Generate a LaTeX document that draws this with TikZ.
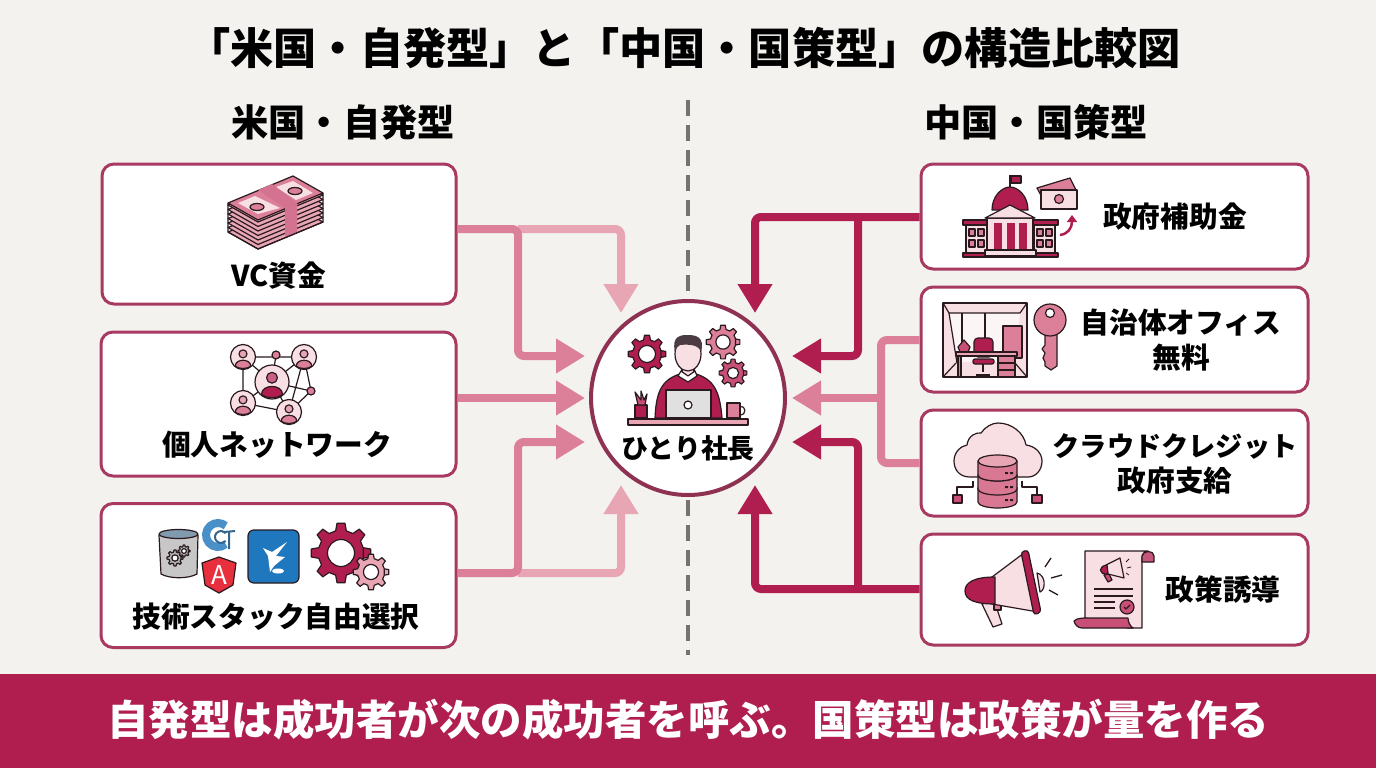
\documentclass[tikz,border=0pt]{standalone}
\usepackage{fontspec}
\setmainfont{Noto Sans CJK JP}
\usetikzlibrary{arrows.meta}
\definecolor{paper}{HTML}{F3F2EE}
\definecolor{crim}{HTML}{B01E50}
\definecolor{rim}{HTML}{A83A62}
\definecolor{rose}{HTML}{C84F75}
\definecolor{pinkm}{HTML}{DC7F98}
\definecolor{pinkl}{HTML}{E8A6B5}
\definecolor{pale}{HTML}{F8DFE3}
\definecolor{inkc}{HTML}{2A1A20}
\definecolor{cblue}{HTML}{1F78BE}
\definecolor{sky}{HTML}{4A90C8}
\tikzset{
  ink/.style={draw=inkc, line width=1.2pt, line join=round},
  card/.style={draw=rim, line width=3pt, fill=white, rounded corners=12pt},
  lab/.style={font=\fontsize{28.7}{35}\selectfont\bfseries, align=center, text=black, inner sep=0pt},
  head/.style={font=\fontsize{37.2}{40}\selectfont\bfseries, text=black, inner sep=0pt},
  conn/.style={line width=8pt, rounded corners=6pt},
  tip/.style={-{Triangle[length=29pt,width=33pt]}}
}
% gear: x, y, radius, teeth, fill, hole
\newcommand{\gearicon}[6]{
  \begin{scope}[shift={(#1,#2)},scale=#3]
    \pgfmathsetmacro{\gs}{360/#4}
    \draw[ink,fill=#5] ({-.3*\gs}:.76) \foreach \k [evaluate=\k as \a using \k*\gs] in {0,...,#4} { -- ({\a-.3*\gs}:.76) -- ({\a-.17*\gs}:1) -- ({\a+.17*\gs}:1) -- ({\a+.3*\gs}:.76)} -- cycle;
    \draw[ink,fill=white] (0,0) circle (#6);
  \end{scope}}
% person in a ring: x, y, radius, fill
\newcommand{\ringman}[4]{
  \begin{scope}[shift={(#1,#2)},scale=#3]
    \draw[ink,fill=pale] (0,0) circle (1);
    \draw[ink,fill=#4] (-.62,.74) .. controls (-.62,.1) and (.62,.1) .. (.62,.74) .. controls (.3,.98) and (-.3,.98) .. (-.62,.74) -- cycle;
    \draw[ink,fill=#4!70!white] (0,-.25) circle (.32);
  \end{scope}}
\begin{document}
\begin{tikzpicture}[x=1pt, y=-1pt]
\useasboundingbox (0,0) rectangle (1376,768);
\fill[paper] (0,0) rectangle (1376,768);
\fill[crim] (0,674) rectangle (1376,768);

\node[font=\fontsize{43.2}{48}\selectfont\bfseries, inner sep=0pt] (title) at (684,48) {「米国・自発型」と「中国・国策型」の構造比較図};
\node[head] (leftHead) at (343,122) {米国・自発型};
\node[head] (rightHead) at (1036,122) {中国・国策型};
\node[font=\fontsize{41.5}{46}\selectfont\bfseries, text=white, inner sep=0pt] (banner) at (688,720) {自発型は成功者が次の成功者を呼ぶ。国策型は政策が量を作る};

% divider
\coordinate (dtop) at (688,100);
\coordinate (dbot) at (688,655);
\draw[draw=black!55, line width=3.5pt, dash pattern=on 16pt off 9pt] (dtop) -- (dbot);

% cards
\node[card, minimum width=354pt, minimum height=140pt, inner sep=0pt] (vc) at (279,234) {};
\node[card, minimum width=355pt, minimum height=144pt, inner sep=0pt] (net) at (278.5,404) {};
\node[card, minimum width=355pt, minimum height=144pt, inner sep=0pt] (stack) at (278.5,575.5) {};
\node[card, minimum width=387pt, minimum height=105pt, inner sep=0pt] (subsidy) at (1114.5,216.5) {};
\node[card, minimum width=387pt, minimum height=105pt, inner sep=0pt] (office) at (1114.5,339.5) {};
\node[card, minimum width=387pt, minimum height=106pt, inner sep=0pt] (cloud) at (1114.5,463) {};
\node[card, minimum width=387pt, minimum height=111pt, inner sep=0pt] (policy) at (1114.5,589.5) {};
\node[circle, draw=rim!85!black, line width=4pt, fill=white, minimum size=194pt, inner sep=0pt] (hub) at (688,398) {};

% tips around the hub
\coordinate (tipA) at ([shift={(-67,-85)}]hub.center);
\coordinate (tipB) at ([shift={(-103,-42)}]hub.center);
\coordinate (tipC) at ([shift={(-103,0)}]hub.center);
\coordinate (tipD) at ([shift={(-103,44)}]hub.center);
\coordinate (tipE) at ([shift={(-67,87)}]hub.center);
\coordinate (tipF) at ([shift={(67,-85)}]hub.center);
\coordinate (tipG) at ([shift={(104,-42)}]hub.center);
\coordinate (tipH) at ([shift={(104,0)}]hub.center);
\coordinate (tipI) at ([shift={(104,44)}]hub.center);
\coordinate (tipJ) at ([shift={(67,87)}]hub.center);
\coordinate (forkL) at (518,229);
\coordinate (forkM) at (518,573);
\coordinate (forkR) at (858,217);
\coordinate (forkS) at (858,589);
\coordinate (forkT) at (881,398);

% left arrows
\draw[conn, tip, draw=pinkl, color=pinkl] (forkL) -- (tipA |- forkL) -- (tipA);
\draw[conn, tip, draw=pinkl, color=pinkl] (forkM) -- (tipE |- forkM) -- (tipE);
\draw[conn, tip, draw=pinkm, color=pinkm] (forkL -| vc.east) -- (forkL) -- (forkL |- tipB) -- (tipB);
\draw[conn, tip, draw=pinkm, color=pinkm] (net.east |- tipC) -- (tipC);
\draw[conn, tip, draw=pinkm, color=pinkm] (forkM -| stack.east) -- (forkM) -- (forkM |- tipD) -- (tipD);
% right arrows
\draw[conn, tip, draw=crim, color=crim] (forkR -| subsidy.west) -- (tipF |- forkR) -- (tipF);
\draw[conn, tip, draw=crim, color=crim] (forkR) -- (forkR |- tipG) -- (tipG);
\draw[conn, tip, draw=crim, color=crim] (forkS -| policy.west) -- (tipJ |- forkS) -- (tipJ);
\draw[conn, tip, draw=crim, color=crim] (forkS) -- (forkS |- tipI) -- (tipI);
\draw[conn, draw=pinkm] (office.west |- 0,340) -- (881,340) -- (forkT);
\draw[conn, draw=pinkm] (cloud.west |- 0,463) -- (881,463) -- (forkT);
\draw[conn, tip, draw=pinkm, color=pinkm] (forkT) -- (tipH);

% labels
\node[lab] (vcText) at (279,276) {VC資金};
\node[lab] (netText) at (277,445) {個人ネットワーク};
\node[lab] (stackText) at (276,617) {技術スタック自由選択};
\node[lab] (subsidyText) at (1175,217) {政府補助金};
\node[lab] (officeText) at (1181,340) {自治体オフィス\\無料};
\node[lab] (cloudText) at (1175,464) {\fontsize{27.2}{35}\selectfont クラウドクレジット\\政府支給};
\node[lab] (policyText) at (1223,590) {政策誘導};
\node[lab, font=\fontsize{26.8}{30}\selectfont\bfseries] (hubText) at (688,448) {ひとり社長};

% money stack
\foreach \d in {29,24.5,20,15.5,11,6.5,2}
  \draw[ink,fill=pinkl] (228,{203+\d}) -- (293,{176+\d}) -- (323,{193+\d}) -- (258,{220+\d}) -- cycle;
\draw[ink,fill=pinkm] (228,203) -- (293,176) -- (323,193) -- (258,220) -- cycle;
\fill[pale] (238,203) -- (255,196) -- (280,208) -- (258,214) -- cycle;
\fill[pale] (276,187) -- (293,181) -- (313,193) -- (296,200) -- cycle;
\draw[ink,fill=pinkm] (257,207) ellipse [x radius=7, y radius=3.5];
\draw[ink,fill=pinkm] (295,191) ellipse [x radius=7, y radius=3.5];
\fill[rose!80!white] (258,190) -- (272,184) -- (297,203) -- (297,232) -- (285,237) -- (285,208) -- cycle;
\draw[ink] (228,203) -- (228,232) -- (258,249) -- (323,222) -- (323,193);

% network
\foreach \a/\b in {243/357,304/357,243/403,289/412,311/391,276/355}
  \draw[ink] (272,382) -- (\a,\b);
\draw[ink] (243,357) -- (304,357) -- (311,391) -- (289,412) -- (243,403) -- (243,357);
\draw[ink] (304,357) -- (289,412);
\ringman{243}{357}{12.5}{pinkm}
\ringman{304}{357}{12.5}{pinkm}
\ringman{243}{403}{12.5}{pinkm}
\ringman{289}{412}{12.5}{pinkm}
\ringman{272}{382}{17}{crim}
\draw[ink,fill=pinkm] (276,355) circle (4);
\draw[ink,fill=pinkm] (311,391) circle (4);

% tool logos
\draw[ink,fill=black!22] (159,535) -- (161,574) .. controls (170,579) and (188,579) .. (197,574) -- (198,535) -- cycle;
\draw[ink,fill=sky!60!black!60] (178.5,534) ellipse [x radius=19.5, y radius=4.5];
\gearicon{175}{558}{8}{8}{black!30}{.4}
\gearicon{184}{551}{6}{8}{black!30}{.4}
\draw[sky, line width=8pt] ([shift={(50:12)}]218,535) arc[start angle=50,end angle=310,radius=12];
\draw[sky!70!black, line width=2pt] ([shift={(40:6)}]221,537) arc[start angle=40,end angle=320,radius=6];
\draw[sky!70!black, line width=2pt] (224,532) -- (235,531) (229,532) -- (229,549);
\draw[ink,fill=red!65!crim!85!white] (219,557) -- (236,563) -- (233,585) -- (219,593) -- (205,585) -- (202,563) -- cycle;
\node[font=\fontsize{26}{28}\selectfont, text=white, inner sep=0pt] (ngLogo) at (219,575) {A};
\draw[ink,fill=cblue,rounded corners=6pt] (248,530) rectangle (299,583);
\fill[white] (263,548) -- (272,552) -- (287,542) -- (276,556) -- (285,557) -- (274,566) -- (270,572) -- (268,556) -- cycle;
\fill[white] (278,571) ellipse [x radius=6, y radius=2.5];
\gearicon{341}{553}{30}{8}{crim}{.45}
\gearicon{371}{572}{18}{8}{pinkl}{.42}

% person at the desk
\gearicon{647}{354}{19}{8}{crim}{.45}
\gearicon{723}{342}{17}{8}{pinkm}{.42}
\gearicon{733}{373}{14}{8}{rose}{.4}
\draw[ink,fill=crim] (655,418) .. controls (656,395) and (660,380) .. (680,374) -- (696,374) .. controls (716,380) and (720,395) .. (722,418) -- cycle;
\draw[ink,fill=pale] (682,365) -- (682,376) -- (694,376) -- (694,365) -- cycle;
\draw[ink,fill=white] (678,376) -- (688,382) -- (697,376) -- (695,371) -- (688,376) -- (681,371) -- cycle;
\draw[ink,fill=pale] (688,354) ellipse [x radius=13, y radius=17];
\fill[inkc!85!white] (675,352) .. controls (671,335) and (682,335) .. (688,335) .. controls (696,335) and (705,337) .. (701,352) .. controls (699,345) and (690,344) .. (680,345) .. controls (677,346) and (676,349) .. (675,352) -- cycle;
\draw[ink,fill=black!12] (666,390) rectangle (711,418);
\draw[ink,fill=white] (688,405) circle (4);
\draw[ink,fill=pinkl] (628,419) rectangle (748,425);
\draw[ink,fill=crim] (635,405) rectangle (647,418);
\draw[ink,fill=rose] (638,405) -- (635,392) -- (641,400) -- (641,391) -- (644,400) -- (647,394) -- (645,405) -- cycle;
\draw[ink] (740,407) .. controls (746,405) and (747,415) .. (740,415);
\draw[ink,fill=pinkm] (727,403) rectangle (740,418);

% government building
\draw[ink,fill=crim] (992,210) .. controls (992,196) and (1002,187) .. (1010,187) .. controls (1018,187) and (1028,196) .. (1028,210) -- cycle;
\draw[ink] (1010,187) -- (1010,175);
\draw[ink,fill=crim] (1011,176) rectangle (1021,183);
\draw[ink,fill=crim] (963,220) rectangle (1058,225);
\draw[ink,fill=pale] (966,225) rectangle (987,253);
\draw[ink,fill=pale] (1034,225) rectangle (1055,253);
\foreach \x in {969,978,1037,1046} \foreach \y in {229,240}
  \draw[ink,fill=pinkm] (\x,\y) rectangle +(6,7);
\draw[ink,fill=pale] (987,218) rectangle (1033,253);
\foreach \x in {994,1006.5,1019} \fill[crim] (\x,223) rectangle +(8,27);
\draw[ink,fill=pale] (985,218) -- (1010,205) -- (1035,218) -- cycle;
\draw[ink,fill=crim] (963,253) rectangle (1058,257);
\draw[ink,fill=pale] (985,250) rectangle (1036,256);
\draw[ink,fill=pinkm] (1037,188) -- (1070,178) -- (1077,192) -- (1045,203) -- cycle;
\draw[ink,fill=pale] (1041,190) rectangle (1077,209);
\draw[ink,fill=pinkm] (1059,199) circle (4.5);
\draw[crim, line width=2.5pt, -{Triangle[length=7pt,width=10pt]}] (1060,235) .. controls (1068,234) and (1072,228) .. (1072,215);

% office room and key
\draw[ink,fill=pale] (943,303) rectangle (1027,377);
\fill[white,opacity=.7] (949,313) -- (1020,313) -- (1015,362) -- (957,362) -- cycle;
\draw[ink] (943,303) -- (949,313) -- (1020,313) -- (1027,303);
\draw[ink] (949,313) -- (957,363) (943,377) -- (956,363) (1027,377) -- (1015,363);
\draw[ink] (962,313) -- (962,352) (985,313) -- (985,338);
\draw[ink,fill=pinkm] (1003,326) rectangle (1022,358);
\draw[ink,fill=rose] (958,347) -- (964,340) -- (970,347) -- (968,352) -- (960,352) -- cycle;
\draw[ink,fill=crim,rounded corners=4pt] (974,338) rectangle (993,357);
\draw[ink,fill=crim,rounded corners=2pt] (973,359) rectangle (994,364);
\draw[ink] (983,364) -- (983,372) (976,375) -- (990,375);
\draw[ink,fill=pinkl] (956,352) rectangle (1017,356);
\draw[ink,fill=pinkm] (958,356) rectangle (961,377);
\draw[ink,fill=pinkm] (998,356) rectangle (1015,377) (998,363) -- (1015,363) (998,370) -- (1015,370);
\draw[ink,fill=pinkm] (1045,332) -- (1045,345) -- (1042,349) -- (1045,353) -- (1043,358) -- (1045,362) -- (1045,366) -- (1051,370) -- (1057,366) -- (1057,332) -- cycle;
\draw[ink,fill=pinkm] (1050,320) circle (16);
\draw[ink,fill=white] (1050,313) circle (4.5);

% cloud and database
\draw[ink,fill=pale] (970,477) .. controls (958,477) and (954,468) .. (954,461) .. controls (954,452) and (961,446) .. (967,445) .. controls (968,436) and (976,432) .. (981,433) .. controls (985,427) and (992,423) .. (998,423) .. controls (1012,423) and (1024,433) .. (1026,445) .. controls (1035,446) and (1042,453) .. (1042,461) .. controls (1042,470) and (1036,477) .. (1028,477) -- cycle;
\draw[ink] (973,481) -- (973,487) -- (957,487) -- (957,495) (1022,481) -- (1022,487) -- (1037,487) -- (1037,495);
\draw[ink,fill=rose] (953,495) rectangle (962,503);
\draw[ink,fill=rose] (1032,495) rectangle (1042,503);
\foreach \y in {488,475,461} {
  \draw[ink,fill=pinkm!85!rose] (978,\y) -- (978,{\y+14}) arc[start angle=180,end angle=0,x radius=19.5,y radius=6] -- (1017,\y) -- cycle;
  \draw[ink,fill=pinkl] (997.5,\y) ellipse [x radius=19.5, y radius=6];
  \fill[inkc] (1005,{\y+11}) rectangle +(3,2) (1010,{\y+11}) rectangle +(3,2);
}

% megaphone and scroll
\draw[ink,fill=pale] (982,604) -- (993,627) -- (1002,624) -- (994,600) -- cycle;
\draw[ink,fill=pinkm] (994,600) rectangle (1001,610);
\draw[ink,fill=pale] (1037,573) .. controls (1046,575) and (1046,590) .. (1040,592) -- cycle;
\draw[ink,fill=pale] (992,577) -- (1024,553) -- (1038,612) -- (992,604) -- cycle;
\draw[ink,fill=crim] (995,577) .. controls (975,577) and (965,582) .. (965,591) .. controls (965,600) and (975,604) .. (995,604) -- cycle;
\draw[ink,fill=crim,rounded corners=3pt] (1021,552) -- (1028,550) -- (1041,612) -- (1034,615) -- cycle;
\draw[ink,line width=1.3pt] (1045,567) -- (1051,558) (1051,578) -- (1062,575) (1049,590) -- (1058,595);
\draw[ink,fill=pale] (1085,618) -- (1085,551) -- (1148,551) .. controls (1142,552) and (1142,556) .. (1142,560) -- (1142,628) -- (1128,628) -- cycle;
\draw[ink,fill=crim!75!white] (1142,562) -- (1142,556) .. controls (1143,550) and (1154,550) .. (1154,556) -- (1154,562) -- cycle;
\draw[ink,fill=rose] (1074,621) .. controls (1076,618) and (1085,618) .. (1085,618) -- (1128,618) .. controls (1128,622) and (1130,626) .. (1133,628) -- (1082,628) .. controls (1078,628) and (1075,625) .. (1074,621) -- cycle;
\draw[ink,fill=rose] (1104,575) -- (1108,582) -- (1112,580) -- (1109,574) -- cycle;
\draw[ink,fill=pale] (1106,565) -- (1120,558) -- (1124,578) -- (1108,574) -- cycle;
\draw[ink,fill=crim] (1107,565) .. controls (1098,566) and (1098,575) .. (1108,574) -- cycle;
\draw[ink,line width=.8pt] (1126,562) -- (1129,559) (1127,568) -- (1131,567) (1126,573) -- (1129,575);
\draw[ink] (1094,589) -- (1133,589) (1094,596) -- (1133,596) (1094,602) -- (1115,602) (1094,608) -- (1115,608);
\draw[ink,fill=rose] (1127,607) circle (7);
\draw[ink] (1124,607) -- (1126,609) -- (1130,605);
\end{tikzpicture}
\end{document}
